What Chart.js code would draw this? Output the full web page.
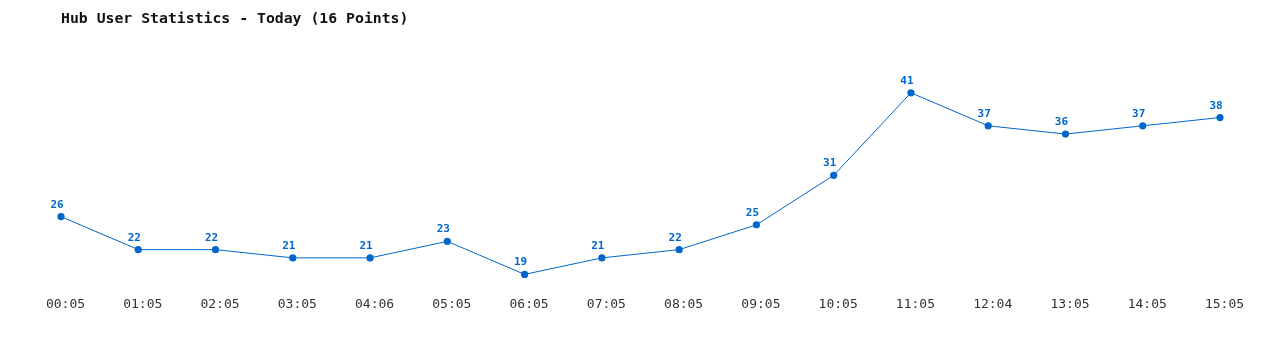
<!DOCTYPE html>
<html>
<head>
<meta charset="utf-8">
<script src="https://cdn.jsdelivr.net/npm/chart.js@4"></script>
<style>
  html, body { margin: 0; padding: 0; background: #fff; }
  #wrap { width: 1280px; height: 350px; }
</style>
</head>
<body>
<div id="wrap"><canvas id="hubChart"></canvas></div>
<script>
// --- dane ---
const titleText = 'Hub User Statistics - Today (16 Points)';
const timeLabels = ['00:05', '01:05', '02:05', '03:05', '04:06', '05:05', '06:05', '07:05',
                    '08:05', '09:05', '10:05', '11:05', '12:04', '13:05', '14:05', '15:05'];
const userCounts = [26, 22, 22, 21, 21, 23, 19, 21, 22, 25, 31, 41, 37, 36, 37, 38];
const yMin = 17;
const yMax = 45;

const lineColor = '#0066cc';
const monoFont = "'DejaVu Sans Mono', monospace";

// etykiety wartości nad punktami
const valueLabels = {
    id: 'valueLabels',
    afterDatasetsDraw(chart) {
        const ctx = chart.ctx;
        const meta = chart.getDatasetMeta(0);
        ctx.save();
        ctx.font = "bold 11px " + monoFont;
        ctx.fillStyle = lineColor;
        ctx.textAlign = 'center';
        ctx.textBaseline = 'alphabetic';
        meta.data.forEach((pt, i) => {
            ctx.fillText(String(userCounts[i]), pt.x - 4, pt.y - 9);
        });
        ctx.restore();
    }
};

new Chart(document.getElementById('hubChart'), {
    type: 'line',
    data: {
        labels: timeLabels,
        datasets: [{
            data: userCounts,
            borderColor: lineColor,
            backgroundColor: lineColor,
            borderWidth: 1,
            pointRadius: 3.6,
            pointBackgroundColor: lineColor,
            pointBorderWidth: 0,
            tension: 0,
            fill: false
        }]
    },
    options: {
        responsive: true,
        maintainAspectRatio: false,
        animation: false,
        layout: { padding: { left: 61, right: 60, top: 0, bottom: 31.5 } },
        plugins: {
            legend: { display: false },
            tooltip: { enabled: false },
            title: {
                display: true,
                text: titleText,
                align: 'start',
                color: '#111',
                font: { family: monoFont, size: 14.8, weight: 'bold' },
                padding: { top: 10, bottom: 32 }
            }
        },
        scales: {
            x: {
                offset: false,
                grid: { display: false, drawTicks: false },
                border: { display: false },
                ticks: {
                    color: '#333',
                    padding: 6,
                    labelOffset: 4.5,
                    font: { family: monoFont, size: 13 },
                    maxRotation: 0,
                    autoSkip: false
                }
            },
            y: {
                display: false,
                min: yMin,
                max: yMax
            }
        }
    },
    plugins: [valueLabels]
});
</script>
</body>
</html>
